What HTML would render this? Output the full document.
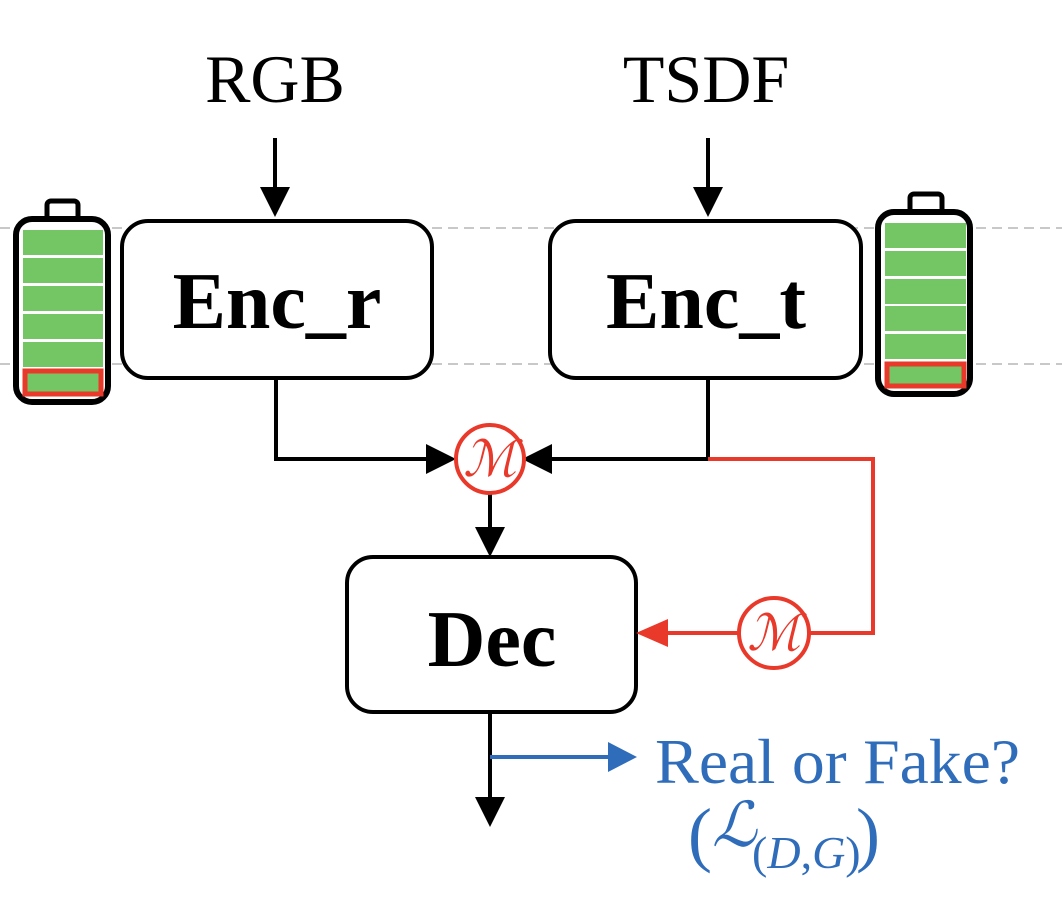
<!DOCTYPE html>
<html><head><style>
body{margin:0;background:#fff;}
svg{display:block;}
</style></head><body>
<svg width="1062" height="908" viewBox="0 0 1062 908" xmlns="http://www.w3.org/2000/svg">
<g stroke="#c8c8c8" stroke-width="2" stroke-dasharray="10,6">
<line x1="0" y1="228" x2="1062" y2="228"/>
<line x1="0" y1="364" x2="1062" y2="364"/>
</g>
<!-- left battery -->
<rect x="47" y="201" width="31" height="20" rx="4" fill="#fff" stroke="#000" stroke-width="5"/>
<rect x="16" y="219" width="92" height="183" rx="16" fill="#fff" stroke="#000" stroke-width="6"/>
<g fill="#73c663">
<rect x="23" y="230" width="80" height="25"/><rect x="23" y="258" width="80" height="25"/><rect x="23" y="286" width="80" height="25"/><rect x="23" y="314" width="80" height="25"/><rect x="23" y="342" width="80" height="25"/>
</g>
<rect x="25" y="371" width="76" height="23" fill="#73c663" stroke="#e8392a" stroke-width="5"/>
<!-- right battery -->
<rect x="910" y="194" width="32" height="20" rx="4" fill="#fff" stroke="#000" stroke-width="5"/>
<rect x="878" y="212" width="92" height="182" rx="16" fill="#fff" stroke="#000" stroke-width="6"/>
<g fill="#73c663">
<rect x="885" y="223" width="81" height="25"/><rect x="885" y="251" width="81" height="25"/><rect x="885" y="279" width="81" height="25"/><rect x="885" y="306" width="81" height="25"/><rect x="885" y="334" width="81" height="25"/>
</g>
<rect x="887" y="364" width="77" height="22" fill="#73c663" stroke="#e8392a" stroke-width="5"/>
<!-- boxes -->
<rect x="122" y="221" width="310" height="157" rx="26" fill="#fff" stroke="#000" stroke-width="4"/>
<rect x="550" y="221" width="311" height="157" rx="26" fill="#fff" stroke="#000" stroke-width="4"/>
<rect x="347" y="557" width="289" height="155" rx="26" fill="#fff" stroke="#000" stroke-width="4"/>
<g font-family="Liberation Serif, serif" font-weight="bold" font-size="80" text-anchor="middle" fill="#000">
<text x="277" y="328">Enc_r</text>
<text x="706" y="328">Enc_t</text>
<text x="492" y="666">Dec</text>
</g>
<g font-family="Liberation Serif, serif" font-size="68" text-anchor="middle" fill="#000">
<text x="275" y="102">RGB</text>
<text x="706" y="102">TSDF</text>
</g>
<!-- black lines -->
<g stroke="#000" stroke-width="4" fill="none">
<line x1="275" y1="138" x2="275" y2="195"/>
<line x1="708" y1="138" x2="708" y2="195"/>
<polyline points="276,378 276,459 430,459"/>
<polyline points="708,378 708,459 548,459"/>
<line x1="490" y1="494" x2="490" y2="530"/>
<line x1="490" y1="712" x2="490" y2="800"/>
</g>
<g fill="#000">
<path d="M260,187 L290,187 L275,217 z"/>
<path d="M693,187 L723,187 L708,217 z"/>
<path d="M426,444 L456,459 L426,474 z"/>
<path d="M552,444 L522,459 L552,474 z"/>
<path d="M475,527 L505,527 L490,557 z"/>
<path d="M475,797 L505,797 L490,827 z"/>
</g>
<!-- red -->
<polyline points="708,459 873,459 873,633 810,633" stroke="#e8392a" stroke-width="4" fill="none"/>
<line x1="738" y1="633" x2="660" y2="633" stroke="#e8392a" stroke-width="4"/>
<path d="M636,633 L668,619 L668,647 z" fill="#e8392a"/>
<circle cx="490" cy="459" r="34" fill="#fff" stroke="#e8392a" stroke-width="4"/>
<circle cx="774" cy="633" r="35" fill="#fff" stroke="#e8392a" stroke-width="4"/>
<g font-family="Liberation Serif, serif" font-style="italic" font-size="50" text-anchor="middle" fill="#e8392a">
<text x="490" y="476">ℳ</text>
<text x="774" y="650">ℳ</text>
</g>
<!-- blue -->
<line x1="490" y1="757" x2="612" y2="757" stroke="#2f6dbb" stroke-width="4"/>
<path d="M637,757 L608,742 L608,772 z" fill="#2f6dbb"/>
<g font-family="Liberation Serif, serif" fill="#2f6dbb">
<text x="655" y="783" font-size="64" textLength="365" lengthAdjust="spacingAndGlyphs">Real or Fake?</text>
<text x="688" y="858" font-size="72">(</text>
<text x="712" y="846" font-size="62" font-style="italic">ℒ</text>
<text x="752" y="868" font-size="46">(<tspan font-style="italic">D</tspan>,<tspan font-style="italic">G</tspan>)</text>
<text x="856" y="858" font-size="72">)</text>
</g>
</svg>
</body></html>
